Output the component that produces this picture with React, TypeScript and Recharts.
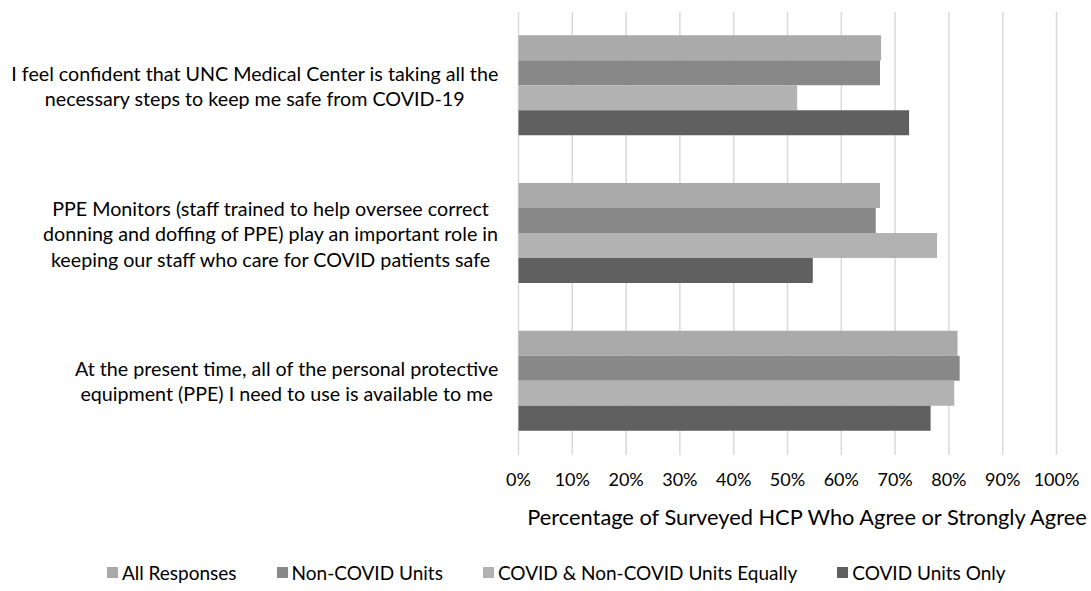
import React from "react";
import { BarChart, Bar, XAxis, YAxis, CartesianGrid, Legend, Label } from "recharts";

const statements = [
  "I feel confident that UNC Medical Center is taking all the\nnecessary steps to keep me safe from COVID-19",
  "PPE Monitors (staff trained to help oversee correct\ndonning and doffing of PPE) play an important role in\nkeeping our staff who care for COVID patients safe",
  "At the present time, all of the personal protective\nequipment (PPE) I need to use is available to me",
];

const seriesNames = ["All Responses", "Non-COVID Units", "COVID & Non-COVID Units Equally", "COVID Units Only"];
const seriesColors = ["#aaaaaa", "#888888", "#b2b2b2", "#606060"];

const allResponses = [0.674, 0.672, 0.816];
const nonCovidUnits = [0.672, 0.664, 0.82];
const covidAndNonCovid = [0.518, 0.778, 0.81];
const covidUnitsOnly = [0.726, 0.547, 0.766];

const xTicks = [0, 0.1, 0.2, 0.3, 0.4, 0.5, 0.6, 0.7, 0.8, 0.9, 1];

const FONT = "Lato, 'Open Sans', sans-serif";

const data = statements.map((s, i) => ({
  statement: s,
  s0: allResponses[i],
  s1: nonCovidUnits[i],
  s2: covidAndNonCovid[i],
  s3: covidUnitsOnly[i],
}));

let ctx: CanvasRenderingContext2D | null = null;
function textWidth(t: string, font: string) {
  if (!ctx) ctx = document.createElement("canvas").getContext("2d");
  if (!ctx) return t.length * 9;
  ctx.font = font;
  return ctx.measureText(t).width;
}

function StatementTick(props: any) {
  const { x, y, payload } = props;
  const lines: string[] = String(payload.value).split("\n");
  const fs = 19.7;
  const widest = Math.max(...lines.map((l) => textWidth(l, `${fs}px Lato`)));
  const cx = x - 12 - widest / 2;
  const lh = 25.5;
  return (
    <g>
      {lines.map((l, i) => (
        <text
          key={i}
          x={cx}
          y={y + (i - (lines.length - 1) / 2) * lh}
          textAnchor="middle"
          dominantBaseline="central"
          fontSize={fs}
          fontFamily={FONT}
          fill="#000"
        >
          {l}
        </text>
      ))}
    </g>
  );
}

function LegendRow() {
  return (
    <div style={{ display: "flex", justifyContent: "center", fontFamily: FONT, fontSize: 19, color: "#000", paddingLeft: 56 }}>
      {seriesNames.map((n, i) => (
        <div key={n} style={{ display: "flex", alignItems: "center", marginRight: i < 3 ? 40 : 0 }}>
          <span style={{ width: 11, height: 11, background: seriesColors[i], marginRight: 4, display: "inline-block" }} />
          <span>{n}</span>
        </div>
      ))}
    </div>
  );
}

export default function App() {
  return (
    <div style={{ width: 1091, height: 591, background: "#fff" }}>
      <style>{`body{margin:0}`}</style>
      <BarChart
        width={1091}
        height={591}
        data={data}
        layout="vertical"
        margin={{ top: 12, right: 34.5, left: 0, bottom: 26 }}
        barCategoryGap="15.8%"
        barGap={0}
      >
        <CartesianGrid horizontal={false} stroke="#d9d9d9" strokeWidth={1.5} />
        <XAxis
          type="number"
          domain={[0, 1]}
          ticks={xTicks}
          tickFormatter={(v) => `${Math.round(v * 100)}%`}
          axisLine={false}
          tickLine={false}
          tickSize={0}
          tickMargin={18}
          height={80}
          tick={{ fontSize: 18, fontFamily: FONT, fill: "#000" }}
          interval={0}
        >
          <Label
            content={({ viewBox }: any) => (
              <text
                x={viewBox.x + viewBox.width / 2 + 19.5}
                y={viewBox.y + 61}
                textAnchor="middle"
                dominantBaseline="central"
                fontSize={21.8}
                fontFamily={FONT}
                fill="#000"
              >
                Percentage of Surveyed HCP Who Agree or Strongly Agree
              </text>
            )}
          />
        </XAxis>
        <YAxis
          type="category"
          dataKey="statement"
          width={518.5}
          axisLine={false}
          tickLine={false}
          tick={<StatementTick />}
          interval={0}
        />
        <Legend verticalAlign="bottom" content={<LegendRow />} wrapperStyle={{ height: 30, bottom: 0 }} />
        <Bar dataKey="s0" name={seriesNames[0]} fill={seriesColors[0]} isAnimationActive={false} />
        <Bar dataKey="s1" name={seriesNames[1]} fill={seriesColors[1]} isAnimationActive={false} />
        <Bar dataKey="s2" name={seriesNames[2]} fill={seriesColors[2]} isAnimationActive={false} />
        <Bar dataKey="s3" name={seriesNames[3]} fill={seriesColors[3]} isAnimationActive={false} />
      </BarChart>
    </div>
  );
}
